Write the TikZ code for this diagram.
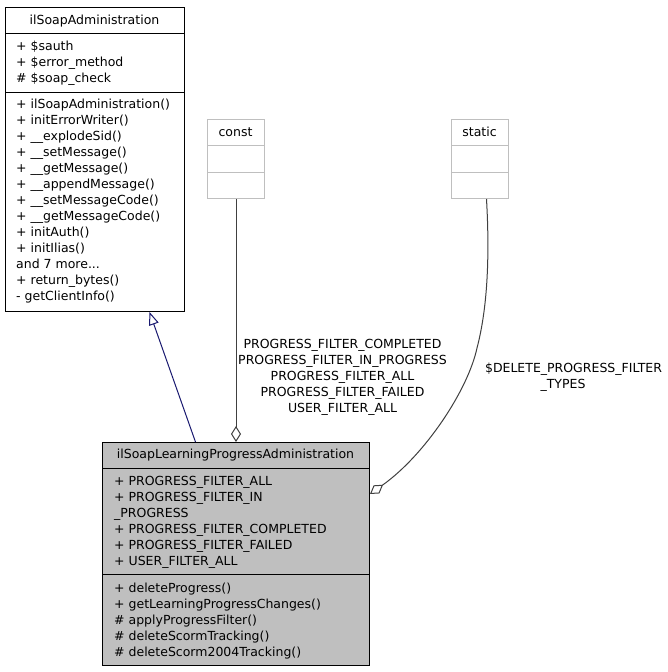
\documentclass[tikz,border=0pt]{standalone}
\usepackage{fontspec}
\setmainfont{DejaVu Sans}
\usetikzlibrary{arrows.meta}
\definecolor{greyL}{HTML}{BFBFBF}
\definecolor{greyD}{HTML}{404040}
\definecolor{navyblue}{HTML}{191970}
\newcommand\sevenmoretxt{and 7 more...}
\tikzset{
  lbl/.style={font=\fontsize{12.5}{16}\selectfont, inner sep=0pt},
  lline/.style={lbl, anchor=base west},
  ctitle/.style={lbl, anchor=base},
  clsbox/.style={draw=black, line width=1pt, anchor=north west, inner sep=0pt, fill=white},
  grbox/.style={draw=greyL, line width=1pt, anchor=north west, inner sep=0pt, fill=white},
  sepline/.style={draw=black, line width=1pt},
  gsepline/.style={draw=greyL, line width=1pt},
  inherit/.style={draw=navyblue, line width=1pt, -{Triangle[open, length=13pt, width=10pt]}},
  usage/.style={draw=greyD, line width=1pt, -{Diamond[open, length=16pt, width=10pt]}},
}
\begin{document}
\begin{tikzpicture}[x=1pt, y=-1pt]
\fill[white] (0,0) rectangle (668,672);
\useasboundingbox (0,0) rectangle (668,672);

% ilSoapAdministration
\node[clsbox, minimum width=179pt, minimum height=304pt] (sa) at (5,7) {};
\draw[sepline] ([yshift=-26pt]sa.north west) -- ([yshift=-26pt]sa.north east);
\draw[sepline] ([yshift=-85pt]sa.north west) -- ([yshift=-85pt]sa.north east);
\node[ctitle] (sat) at (94.5,24) {ilSoapAdministration};
\foreach \t [count=\i from 0] in {+ \$sauth, + \$error\_method, \# \$soap\_check}
  \node[lline] (saa\i) at (16, 50.5+16*\i) {\t};
\foreach \t [count=\i from 0] in {+ ilSoapAdministration(), + initErrorWriter(), + \_\_explodeSid(), + \_\_setMessage(), + \_\_getMessage(), + \_\_appendMessage(), + \_\_setMessageCode(), + \_\_getMessageCode(), + initAuth(), + initIlias(), \sevenmoretxt, + return\_bytes(), - getClientInfo()}
  \node[lline] (sam\i) at (16, 108.5+16*\i) {\t};

% const
\node[grbox, minimum width=57pt, minimum height=79pt] (const) at (207,119) {};
\draw[gsepline] ([yshift=-26pt]const.north west) -- ([yshift=-26pt]const.north east);
\draw[gsepline] ([yshift=-53pt]const.north west) -- ([yshift=-53pt]const.north east);
\node[ctitle] (constt) at (235.5,136.5) {const};

% static
\node[grbox, minimum width=57pt, minimum height=79pt] (static) at (451,119) {};
\draw[gsepline] ([yshift=-26pt]static.north west) -- ([yshift=-26pt]static.north east);
\draw[gsepline] ([yshift=-53pt]static.north west) -- ([yshift=-53pt]static.north east);
\node[ctitle] (statict) at (479.5,136.5) {static};

% ilSoapLearningProgressAdministration
\node[clsbox, fill=greyL, minimum width=267pt, minimum height=223pt] (lpa) at (102,442) {};
\draw[sepline] ([yshift=-26pt]lpa.north west) -- ([yshift=-26pt]lpa.north east);
\draw[sepline] ([yshift=-132pt]lpa.north west) -- ([yshift=-132pt]lpa.north east);
\node[ctitle] (lpat) at (235.5,458.5) {ilSoapLearningProgressAdministration};
\foreach \t [count=\i from 0] in {+ PROGRESS\_FILTER\_ALL, + PROGRESS\_FILTER\_IN, \_PROGRESS, + PROGRESS\_FILTER\_COMPLETED, + PROGRESS\_FILTER\_FAILED, + USER\_FILTER\_ALL}
  \node[lline] (lpaa\i) at (114, 485.5+16*\i) {\t};
\foreach \t [count=\i from 0] in {+ deleteProgress(), + getLearningProgressChanges(), \# applyProgressFilter(), \# deleteScormTracking(), \# deleteScorm2004Tracking()}
  \node[lline] (lpam\i) at (114, 592+16*\i) {\t};

% connectors
\draw[inherit] ([xshift=-40.5pt]lpa.north) -- ([xshift=54.5pt]sa.south);
\draw[usage] (const.south) -- (lpa.north);
\draw[usage] ([xshift=6.5pt]static.south) .. controls (490,260) and (487,310) .. (477,348)
  .. controls (468,390) and (425,455) .. ([yshift=-52pt]lpa.north east);

% labels
\foreach \t [count=\i from 0] in {PROGRESS\_FILTER\_COMPLETED, PROGRESS\_FILTER\_IN\_PROGRESS, PROGRESS\_FILTER\_ALL, PROGRESS\_FILTER\_FAILED, USER\_FILTER\_ALL}
  \node[ctitle] (cl\i) at (342.5, 348.5+16*\i) {\t};
\node[ctitle] (sl0) at (573.5,372.5) {\$DELETE\_PROGRESS\_FILTER};
\node[ctitle] (sl1) at (563,388.5) {\_TYPES};
\end{tikzpicture}
\end{document}
